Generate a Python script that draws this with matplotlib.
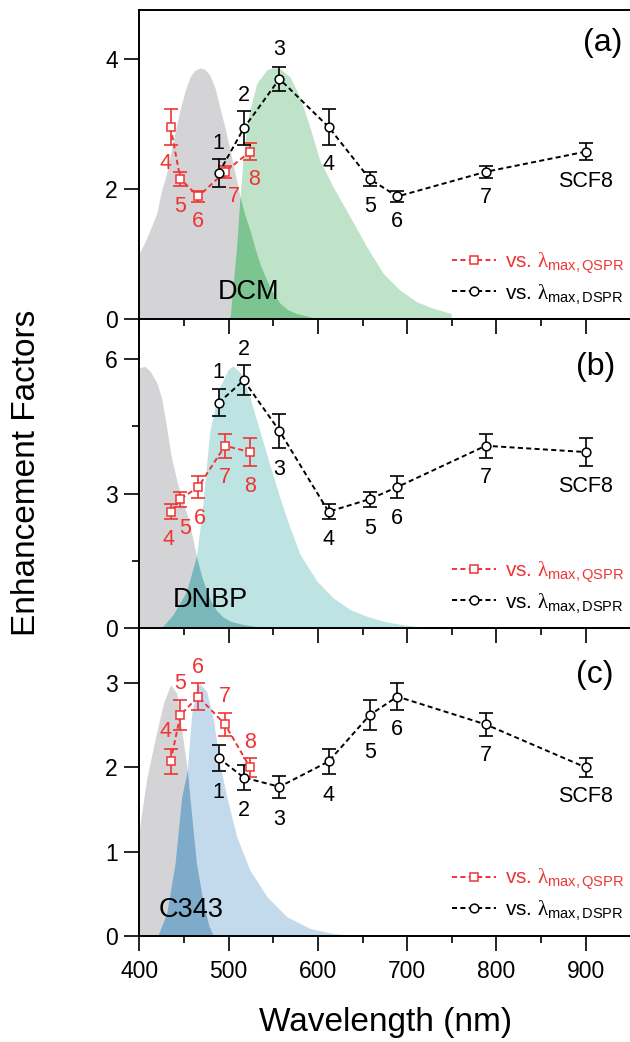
import numpy as np
import matplotlib
matplotlib.use('Agg')
import matplotlib.pyplot as plt
from matplotlib.ticker import MultipleLocator

plt.rcParams['font.family'] = ['Liberation Sans', 'DejaVu Sans']
plt.rcParams['mathtext.fontset'] = 'custom'
plt.rcParams['mathtext.rm'] = 'Liberation Sans'
plt.rcParams['mathtext.it'] = 'Liberation Serif'
plt.rcParams['mathtext.bf'] = 'Liberation Sans:bold'

# ---------------- data ----------------
labels_dspr = ['1', '2', '3', '4', '5', '6', '7', 'SCF8']
labels_qspr = ['4', '5', '6', '7', '8']

wl_dspr = [489, 517, 557, 612, 658, 689, 788, 900]
wl_qspr = [435, 446, 466, 496, 524]

# panel (a) DCM
ef_a_dspr = [2.25, 2.94, 3.70, 2.96, 2.16, 1.89, 2.27, 2.58]
err_a_dspr = [0.21, 0.26, 0.18, 0.27, 0.11, 0.09, 0.09, 0.13]
ef_a_qspr = [2.96, 2.16, 1.89, 2.27, 2.58]
err_a_qspr = [0.27, 0.11, 0.09, 0.09, 0.13]

# panel (b) DNBP
ef_b_dspr = [5.03, 5.53, 4.40, 2.60, 2.88, 3.15, 4.07, 3.93]
err_b_dspr = [0.30, 0.33, 0.37, 0.17, 0.17, 0.25, 0.27, 0.31]
ef_b_qspr = [2.60, 2.88, 3.15, 4.07, 3.93]
err_b_qspr = [0.17, 0.17, 0.25, 0.27, 0.31]

# panel (c) C343
ef_c_dspr = [2.11, 1.88, 1.77, 2.07, 2.62, 2.84, 2.51, 2.00]
err_c_dspr = [0.15, 0.15, 0.13, 0.15, 0.18, 0.16, 0.14, 0.11]
ef_c_qspr = [2.07, 2.62, 2.84, 2.51, 2.00]
err_c_qspr = [0.15, 0.18, 0.16, 0.14, 0.11]

# spectra (scaled to each panel's axis)
abs_a_wl = [400, 406, 412, 419.5, 425, 430.7, 438, 445.6, 451, 456.8, 462, 468, 473, 479, 485,
            490, 496, 501.6, 509, 512.8, 518, 524, 530, 535, 541, 546, 552, 557.5, 566, 576, 591, 600]
abs_a_val = [1.02, 1.18, 1.37, 1.63, 1.99, 2.25, 2.75, 3.22, 3.50, 3.73, 3.83, 3.87, 3.85, 3.76, 3.55,
             3.27, 2.95, 2.60, 2.14, 1.89, 1.62, 1.37, 1.08, 0.86, 0.66, 0.50, 0.36, 0.25, 0.15, 0.09, 0.04, 0.0]
em_a_wl = [497, 501.8, 509, 512.8, 516.5, 522, 531.5, 542.7, 550, 557.5, 568.8, 580, 591, 602,
           617, 636, 654.6, 673, 692, 710.6, 729, 749, 750]
em_a_val = [0.0, 0.04, 1.12, 1.89, 2.50, 3.12, 3.63, 3.84, 3.87, 3.86, 3.73, 3.42, 2.96, 2.45,
            2.04, 1.58, 1.12, 0.71, 0.45, 0.27, 0.17, 0.09, 0.0]

abs_b_wl = [400, 406, 412, 419.5, 425, 430.7, 436, 442, 448, 455, 462, 464, 470, 475.5, 481,
            486.7, 494, 501.6, 515, 527.7, 554]
abs_b_val = [5.81, 5.84, 5.74, 5.48, 5.14, 4.47, 3.80, 3.30, 2.85, 2.45, 1.80, 1.61, 1.15, 0.83, 0.58,
             0.39, 0.25, 0.16, 0.09, 0.05, 0.0]
em_b_wl = [422, 425, 438, 453, 464, 470, 473.6, 479, 490, 499.7, 505, 514.7, 524, 535, 546,
           557.5, 568.8, 580, 598.7, 617, 636, 654.6, 673, 692, 714, 720]
em_b_val = [0.0, 0.01, 0.31, 0.83, 1.61, 2.54, 3.29, 4.40, 5.37, 5.78, 5.85, 5.67, 5.14, 4.40, 3.66,
            2.91, 2.24, 1.65, 1.06, 0.68, 0.42, 0.27, 0.16, 0.09, 0.03, 0.0]

abs_c_wl = [400, 408, 417.6, 427, 435, 442, 449, 453.8, 458.7, 464, 471.7, 478, 483]
abs_c_val = [1.26, 1.85, 2.33, 2.76, 2.98, 2.88, 2.33, 1.97, 1.42, 0.86, 0.39, 0.12, 0.0]
em_c_wl = [419, 421, 430.7, 440, 447.5, 453.8, 458.7, 464, 468, 475.5, 483, 490, 498, 509, 524,
           542.7, 565, 591, 617, 636, 640]
em_c_val = [0.0, 0.01, 0.27, 0.86, 1.65, 1.97, 2.64, 2.94, 2.99, 2.90, 2.57, 2.05, 1.65, 1.18, 0.78,
            0.47, 0.23, 0.09, 0.03, 0.01, 0.0]

dye_names = ['DCM', 'DNBP', 'C343']
panel_tags = ['(a)', '(b)', '(c)']
legend_labels = [r'vs. $\lambda_{\mathrm{max,QSPR}}$', r'vs. $\lambda_{\mathrm{max,DSPR}}$']

# ---------------- layout / style (not data) ----------------
RED = '#ee3535'
W, H = 630, 1042
left_px, right_px = 139.3, 630
tops = [10, 319.3, 628.3]
bots = [319.3, 628.3, 936]
ylims = [4.76, 6.89, 3.65]
ymajor = [2, 3, 1]
yminor = [None, 1.5, None]
fills = [('#d4d4d6', '#bfe3c9', '#7cc591'),
         ('#d4d4d6', '#bde3e2', '#79b7ba'),
         ('#d4d4d6', '#c3daec', '#7eabca')]
dye_pos = [(522, 0.42), (480, 0.63), (458, 0.31)]
tag_pos = [(0.945, 0.893), (0.930, 0.845), (0.928, 0.847)]

off_dspr = [
    [(0, 30), (0, 33), (0, 29), (0, -38), (0, -28), (0, -25), (0, -26), (0, -30)],
    [(0, 30), (0, 31), (0, -39), (0, -28), (0, -29), (0, -31), (0, -32), (0, -34)],
    [(0, -34), (0, -33), (0, -33), (0, -34), (0, -37), (0, -33), (0, -31), (0, -29)],
]
off_qspr = [
    [(-5, -37), (0, -28), (0, -25), (9, -25), (4, -28)],
    [(-2, -28), (5, -29), (2, -31), (0, -32), (0, -34)],
    [(-5, 30), (0, 32), (0, 29), (0, 28), (0, 25)],
]

panels = [
    (ef_a_dspr, err_a_dspr, ef_a_qspr, err_a_qspr, abs_a_wl, abs_a_val, em_a_wl, em_a_val),
    (ef_b_dspr, err_b_dspr, ef_b_qspr, err_b_qspr, abs_b_wl, abs_b_val, em_b_wl, em_b_val),
    (ef_c_dspr, err_c_dspr, ef_c_qspr, err_c_qspr, abs_c_wl, abs_c_val, em_c_wl, em_c_val),
]

fig = plt.figure(figsize=(W / 100, H / 100), dpi=100)

xmax = 400 + (right_px - left_px) / 0.8928
grid = np.linspace(400, 800, 2000)

for i, (ed, eed, eq, eeq, awl, aval, ewl, evl) in enumerate(panels):
    ax = fig.add_axes([left_px / W, 1 - bots[i] / H, (right_px - left_px) / W,
                       (bots[i] - tops[i]) / H])
    ax.set_zorder(10 - i)
    ax.patch.set_alpha(0)
    ax.set_xlim(400, xmax)
    ax.set_ylim(0, ylims[i])

    cg, ce, co = fills[i]
    ax.fill_between(awl, 0, aval, color=cg, lw=0, zorder=1)
    ax.fill_between(ewl, 0, evl, color=ce, lw=0, zorder=1.2)
    ga = np.interp(grid, awl, aval, left=0, right=0)
    ge = np.interp(grid, ewl, evl, left=0, right=0)
    ax.fill_between(grid, 0, np.minimum(ga, ge), color=co, lw=0, zorder=1.4)

    # error bars
    ax.errorbar(wl_qspr, eq, yerr=eeq, fmt='none', ecolor=RED, elinewidth=1.2,
                capsize=5.2, capthick=1.2, zorder=3)
    ax.errorbar(wl_dspr, ed, yerr=eed, fmt='none', ecolor='black', elinewidth=1.2,
                capsize=5.2, capthick=1.2, zorder=3)
    lq, = ax.plot(wl_qspr, eq, ls='--', dashes=(2.6, 1.7), lw=1.4, color=RED, marker='s',
                  ms=5.5, mfc='white', mec=RED, mew=1.1, zorder=4)
    ld, = ax.plot(wl_dspr, ed, ls='--', dashes=(2.6, 1.7), lw=1.4, color='black', marker='o',
                  ms=6.3, mfc='white', mec='black', mew=1.1, zorder=4)

    for xv, yv, lab, off in zip(wl_dspr, ed, labels_dspr, off_dspr[i]):
        ax.annotate(lab, (xv, yv), xytext=off, textcoords='offset pixels',
                    ha='center', va='center', fontsize=15.5, color='black', zorder=5)
    for xv, yv, lab, off in zip(wl_qspr, eq, labels_qspr, off_qspr[i]):
        ax.annotate(lab, (xv, yv), xytext=off, textcoords='offset pixels',
                    ha='center', va='center', fontsize=15.5, color=RED, zorder=5)

    ax.text(dye_pos[i][0], dye_pos[i][1], dye_names[i], ha='center', va='center',
            fontsize=19.5, zorder=5)
    ax.text(tag_pos[i][0], tag_pos[i][1], panel_tags[i], transform=ax.transAxes,
            ha='center', va='center', fontsize=23, zorder=5)

    leg = ax.legend([lq, ld], legend_labels,
                    loc='lower right', bbox_to_anchor=(1.015, 0.0), frameon=False,
                    fontsize=15, handlelength=2.1, handletextpad=0.4, labelspacing=0.3,
                    borderaxespad=0.25, labelcolor='linecolor')
    leg.set_zorder(6)

    ax.spines['right'].set_visible(False)
    for s in ['left', 'top', 'bottom']:
        ax.spines[s].set_linewidth(1.4)
    ax.xaxis.set_major_locator(MultipleLocator(100))
    ax.xaxis.set_minor_locator(MultipleLocator(50))
    ax.yaxis.set_major_locator(MultipleLocator(ymajor[i]))
    if yminor[i]:
        ax.yaxis.set_minor_locator(MultipleLocator(yminor[i]))
    else:
        ax.yaxis.set_minor_locator(matplotlib.ticker.NullLocator())
    ax.tick_params(which='major', direction='out', length=10.5, width=1.2, labelsize=16.5,
                   top=False, right=False)
    ax.tick_params(which='minor', direction='out', length=5, width=1.2, top=False, right=False)
    ax.tick_params(axis='x', pad=7)
    ax.tick_params(axis='y', pad=5)
    if i < 2:
        ax.tick_params(axis='x', labelbottom=False)

fig.text(27 / W, 1 - 472.5 / H, 'Enhancement Factors', rotation=90, ha='center',
         va='center', fontsize=24)
fig.text(386 / W, 1 - 1023 / H, 'Wavelength (nm)', ha='center', va='center', fontsize=24)

fig.savefig('out.png', dpi=100)
